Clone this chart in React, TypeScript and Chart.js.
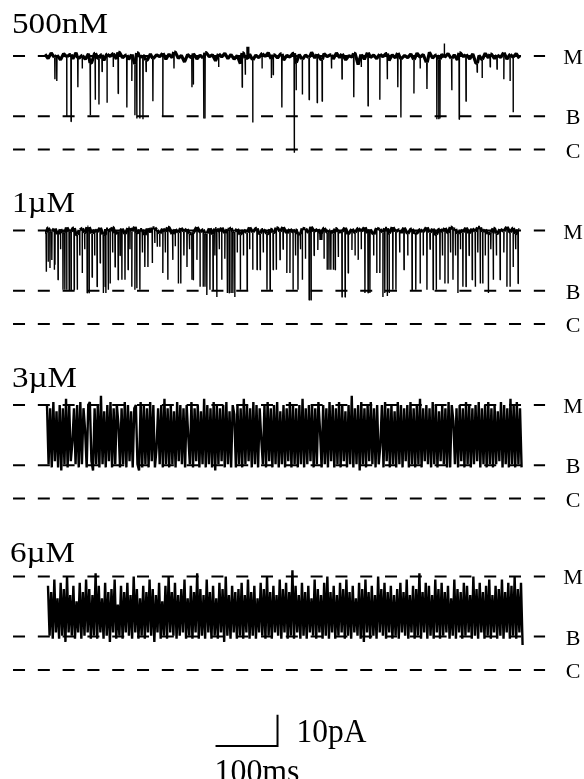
import React, { useEffect, useRef } from "react";
import { Chart, registerables } from "chart.js";

Chart.register(...registerables);

// ---------------- data ----------------
const conditions = ["500nM", "1\u00B5M", "3\u00B5M", "6\u00B5M"];
const levelNames = ["M", "B", "C"];
const levelCurrents = [30, 10.7, 0]; // pA above the closed level

const scaleBarTime = 100; // ms
const scaleBarCurrent = 10; // pA
const scaleBarLabels = ["100ms", "10pA"];

// baseline noise around the M level (pA), one value per 5 ms
const noise500nM = [
  0.6, -0.8, 1.0, -0.4, 0.3, -1.2, 0.8, -0.2, 0.5, -0.9, 1.1, -0.6,
  0.2, -1.0, 0.7, -2.2, 0.9, -0.7, 0.4, -1.4, 0.6, -0.1, 0.8, -0.9,
  1.2, -0.5, 0.3, -1.1, 0.5, -2.6, 1.0, -0.3, 0.1, -1.3, 0.7, -0.8,
  0.4, -0.2, 0.9, -1.0, 0.6, -0.5, 1.3, -0.7, 0.2, -1.9, 0.5, -0.4,
  0.8, -0.9, 0.3, -0.6, 1.1, -0.2, 0.4, -1.5, 0.7, -0.3, 0.9, -0.8,
  0.5, -1.0, 0.2, -2.4, 1.0, -0.7, 0.6, -1.2, 0.3, -0.5, 0.8, -0.1,
  1.1, -0.9, 0.4, -0.6, 0.7, -1.3, 0.2, -0.3, 0.9, -2.1, 0.5, -1.0,
  0.3, -0.4, 1.2, -0.6, 0.6, -1.1, 0.8, -0.2, 0.4, -0.9, 1.0, -0.5,
  0.7, -1.2, 0.1, -0.3, 0.9, -2.7, 0.5, -1.0, 1.1, -0.4, 0.3, -0.8,
  0.6, -0.2, 0.8, -1.4, 0.4, -0.6, 1.0, -0.9, 0.2, -0.5, 0.7, -1.1,
  0.9, -0.3, 0.5, -2.0, 1.2, -0.6, 0.3, -1.0, 0.6, -0.4, 0.8, -0.7,
  0.4, -1.2, 1.0, -0.2, 0.5, -0.9, 0.7, -2.3, 0.2, -1.1, 0.9, -0.6,
  0.6, -0.8, 0.3, -0.4, 1.1, -1.0, 0.5, -0.3, 0.8, -0.7, 0.4, -1.3,
];

// brief transitions: [time ms, current pA]
const events500nM = [
  [16, 22.6], [19, 22], [35, 10.6], [42, 9], [53, 20], [60, 26], [73, 11], [81, 16],
  [87, 14.5], [92, 25], [100, 15], [110, 26.5], [118, 18], [132, 13.5], [140, 22],
  [145, 11], [148, 10], [153, 10], [158, 9.7], [163, 25], [174, 15.5], [190, 10.6],
  [208, 26], [237, 20], [239, 21], [256, 10], [258, 10], [280, 26.5], [318, 20],
  [323, 24], [327, 33], [335, 8.7], [350, 26], [365, 23], [368, 24], [382, 13.5],
  [402, -1], [405, 19], [415, 17.7], [426, 16], [439, 15], [447, 15.5], [462, 26],
  [479, 22.6], [498, 16.8], [510, 26.5], [521, 14], [540, 16], [552, 22.6], [569, 20],
  [574, 10.3], [595, 18], [605, 26], [616, 19.4], [632, 9.7], [635, 9.7], [637, 10],
  [644, 34], [656, 19], [668, 9.7], [679, 15.5], [697, 24.8], [705, 23], [718, 26.5],
  [729, 25.8], [740, 22.6], [750, 22], [755, 12],
];

const noise1uM = [
  -0.5, 0.9, -0.2, 0.6, -1.1, 0.4, -0.7, 1.0, -0.3, 0.8, -1.3, 0.2,
  0.7, -0.6, 1.1, -0.9, 0.3, -0.4, 0.9, -1.2, 0.5, -0.1, 1.0, -0.8,
  -0.4, 0.6, -1.0, 0.8, -0.2, 1.2, -0.7, 0.3, -1.4, 0.7, -0.5, 0.9,
  0.2, -0.9, 0.6, -0.3, 1.0, -1.1, 0.4, -0.6, 0.8, -0.2, 0.5, -1.0,
  -0.7, 1.1, -0.4, 0.3, -0.9, 0.7, -1.2, 0.6, -0.1, 0.9, -0.8, 0.4,
  0.8, -0.3, 0.5, -1.3, 0.2, -0.6, 1.0, -0.5, 0.7, -0.9, 0.3, -0.2,
  -1.0, 0.4, -0.6, 0.9, -0.3, 1.1, -0.8, 0.5, -0.4, 0.2, -1.1, 0.7,
  0.6, -0.7, 1.2, -0.2, 0.4, -1.0, 0.8, -0.5, 0.1, -0.9, 0.6, -0.4,
  -0.3, 0.9, -1.1, 0.5, -0.6, 0.7, -0.2, 1.0, -0.8, 0.3, -1.2, 0.8,
  0.4, -0.5, 0.7, -0.9, 1.1, -0.3, 0.2, -0.7, 0.9, -1.0, 0.5, -0.6,
  -0.8, 0.3, -0.4, 1.0, -0.6, 0.6, -1.3, 0.4, -0.2, 0.8, -0.7, 1.1,
  0.5, -1.0, 0.2, -0.5, 0.9, -0.8, 0.6, -0.3, 1.0, -0.4, 0.3, -1.1,
  -0.6, 0.7, -0.9, 0.4, -0.2, 1.2, -0.5, 0.8, -1.0, 0.3, -0.7, 0.6,
];

const events1uM = [
  [2, 16.8], [5, 20], [8, 18], [11, 20.6], [15, 17.4], [16, 19], [21, 14.2], [25, 24],
  [29, 11], [32, 11], [35, 11], [39, 11], [42, 11], [47, 11], [52, 11], [56, 22],
  [60, 16.4], [64, 24], [68, 10], [71, 10], [76, 15], [80, 22], [84, 12], [89, 19.6],
  [94, 10], [97, 12], [98, 10], [102, 11], [105, 13], [109, 23], [113, 18.3], [118, 14.2],
  [121, 22], [124, 14.2], [129, 14.2], [134, 17.4], [137, 24], [140, 12], [145, 11],
  [148, 11.5], [153, 11], [157, 23], [161, 18.3], [166, 18.3], [173, 19.6], [177, 26],
  [181, 24.8], [185, 24.8], [190, 16.4], [194, 23], [198, 14.2], [206, 20.6], [210, 25],
  [215, 13], [219, 13], [224, 22], [229, 18.3], [233, 24], [237, 14.2], [239, 14.2],
  [245, 20.6], [250, 12], [255, 12], [258, 12], [261, 9.3], [266, 11], [271, 11],
  [274, 22], [277, 8.7], [281, 24], [285, 14.2], [290, 21], [294, 10], [297, 10],
  [300, 10], [303, 10], [306, 8.7], [310, 23], [315, 11], [320, 22], [326, 11],
  [330, 24], [335, 17.4], [342, 17.4], [347, 17.4], [352, 23], [358, 11], [363, 11],
  [368, 17.4], [373, 17.4], [379, 20.6], [384, 24], [390, 16.4], [395, 16.4], [400, 11],
  [404, 22], [408, 11], [412, 24], [415, 14.2], [420, 21], [426, 7.7], [429, 7.7],
  [434, 22], [440, 23.8], [445, 27], [450, 21], [455, 17.4], [458, 17.4], [461, 17.4],
  [465, 17.4], [468, 17.4], [473, 21.5], [479, 8.7], [484, 8.7], [489, 16.4], [495, 23.8],
  [500, 22], [505, 20.6], [510, 24], [516, 10], [521, 10], [524, 10], [530, 22],
  [535, 16.4], [540, 16.4], [545, 8.7], [548, 10], [552, 9], [555, 10], [561, 11],
  [566, 11], [572, 23], [579, 17.4], [585, 22], [592, 11], [598, 11], [605, 13],
  [610, 22], [616, 11], [621, 24], [626, 11], [631, 11], [637, 14.2], [641, 22],
  [645, 13], [650, 13], [654, 23], [658, 14.2], [662, 22], [666, 10], [670, 24],
  [674, 12], [679, 12], [684, 22], [689, 14.2], [694, 12], [698, 23], [702, 13],
  [706, 13], [710, 22], [715, 10], [719, 24], [723, 14.2], [728, 22], [734, 14.2],
  [740, 23], [745, 12], [750, 12], [755, 18.3], [759, 24], [763, 13],
];

// fast flickering records (pA), one value per 2.56 ms
const trace3uM = [
  30, 11, 29, 10, 31, 12, 28, 10, 30, 9, 29, 11, 32, 10, 30, 12, 18, 29, 11, 30,
  10, 31, 11, 29, 22, 10, 30, 31, 12, 9, 29, 11, 30, 10, 33, 11, 28, 10, 30, 12,
  31, 10, 29, 11, 30, 24, 10, 29, 11, 31, 10, 30, 12, 28, 10, 29, 30, 11, 9, 31,
  10, 30, 11, 29, 10, 31, 12, 30, 10, 16, 29, 11, 30, 10, 32, 11, 29, 10, 30, 11,
  28, 10, 31, 12, 30, 11, 29, 10, 30, 20, 11, 31, 10, 29, 12, 30, 10, 28, 11, 32,
  10, 30, 11, 29, 10, 31, 9, 30, 11, 29, 12, 30, 10, 31, 11, 28, 10, 30, 27, 10,
  30, 11, 29, 10, 32, 11, 30, 12, 29, 10, 31, 11, 30, 10, 29, 19, 11, 30, 10, 31,
  12, 29, 10, 30, 11, 31, 10, 28, 11, 30, 10, 29, 12, 31, 10, 30, 11, 29, 10, 30,
  11, 32, 10, 29, 11, 30, 12, 30, 10, 29, 11, 31, 22, 10, 30, 11, 29, 10, 31, 12,
  30, 10, 29, 11, 31, 10, 30, 12, 28, 10, 30, 11, 33, 10, 29, 11, 30, 9, 31, 11,
  29, 10, 30, 12, 31, 11, 29, 10, 30, 11, 17, 30, 10, 31, 12, 29, 10, 30, 11, 28,
  10, 31, 11, 30, 10, 29, 12, 30, 10, 31, 11, 29, 10, 30, 11, 32, 10, 29, 12, 30,
  11, 29, 10, 31, 11, 30, 10, 28, 12, 30, 11, 29, 10, 31, 10, 30, 25, 11, 29, 10,
  30, 12, 29, 10, 31, 11, 30, 10, 29, 11, 30, 12, 31, 10, 29, 11, 30, 10, 31, 11,
  29, 10, 30, 11, 28, 12, 31, 10, 30, 11, 29, 10, 32, 11, 30, 10, 31, 11, 29, 10,
];

const trace6uM = [
  27, 11, 25, 10, 29, 12, 23, 10, 28, 11, 26, 9, 30, 12, 24, 11, 27, 10, 22, 12,
  28, 10, 25, 11, 29, 12, 26, 10, 24, 11, 31, 10, 27, 12, 23, 10, 28, 11, 25, 9,
  26, 12, 29, 10, 21, 11, 27, 10, 25, 12, 28, 11, 24, 10, 30, 12, 26, 10, 23, 11,
  27, 10, 25, 12, 29, 11, 26, 9, 24, 12, 28, 10, 22, 11, 27, 10, 30, 12, 25, 11,
  28, 10, 24, 11, 26, 12, 29, 10, 23, 11, 27, 10, 25, 12, 31, 10, 26, 11, 24, 10,
  29, 12, 25, 10, 27, 11, 23, 10, 28, 12, 26, 9, 30, 11, 24, 10, 27, 12, 25, 10,
  26, 11, 28, 10, 24, 12, 29, 10, 25, 11, 27, 10, 23, 12, 28, 11, 26, 10, 30, 11,
  25, 10, 27, 12, 24, 11, 29, 10, 26, 12, 28, 10, 25, 11, 32, 10, 27, 12, 24, 10,
  28, 11, 25, 10, 27, 12, 23, 11, 29, 10, 26, 12, 24, 10, 28, 11, 30, 10, 25, 12,
  27, 10, 24, 11, 28, 12, 26, 10, 29, 11, 25, 10, 27, 12, 23, 11, 28, 10, 26, 9,
  29, 12, 25, 10, 27, 11, 24, 10, 30, 12, 26, 11, 28, 10, 25, 12, 27, 10, 24, 11,
  26, 10, 28, 12, 25, 11, 29, 10, 24, 12, 27, 10, 26, 11, 31, 10, 25, 12, 28, 10,
  27, 11, 24, 10, 29, 12, 26, 10, 28, 11, 25, 12, 27, 10, 23, 11, 29, 10, 26, 12,
  25, 10, 28, 11, 27, 12, 24, 10, 30, 11, 26, 10, 28, 12, 25, 10, 27, 11, 29, 10,
  24, 12, 27, 10, 26, 11, 29, 10, 25, 12, 28, 10, 27, 11, 30, 10, 26, 12, 28, 8,
];

// ---------------- layout ----------------
const X_MIN = -72.6;
const X_MAX = 869.3;
const Y_MIN = 0;
const Y_MAX = 250;
const PANEL_OFFSET = [202, 146, 90, 35];
const NOISE_STEP = 5;
const EVENT_END = 766;
const DENSE_START = [3.2, 4.8];
const DENSE_STEP = 2.56;
const DASH_FROM = -51.6;
const DASH_TO = 806.5;
const SCALE_T0 = 275;
const SCALE_Y0 = 10.6;
const LEFT_LABELS = [
  { x: 12, y: 33, w: 96 },
  { x: 12, y: 212, w: 63 },
  { x: 12, y: 387, w: 65 },
  { x: 10, y: 562, w: 65 },
];
const SERIF = "'Liberation Serif', 'Times New Roman', serif";

type Pt = { x: number; y: number };

function buildEventTrace(noise: number[], events: number[][], offset: number): Pt[] {
  const M = levelCurrents[0];
  const base = (t: number) => {
    const i = Math.min(noise.length - 1, Math.max(0, Math.round(t / NOISE_STEP)));
    return offset + M + noise[i];
  };
  const pts: Pt[] = [];
  noise.forEach((n, i) => {
    const t = i * NOISE_STEP;
    if (t <= EVENT_END) pts.push({ x: t, y: offset + M + n });
  });
  pts.push({ x: EVENT_END, y: base(EVENT_END) });
  events.forEach(([t, v]) => {
    const b = base(t);
    pts.push({ x: t - 0.35, y: b }, { x: t, y: offset + v }, { x: t + 0.35, y: b });
  });
  pts.sort((a, b) => a.x - b.x);
  return pts;
}

function buildDenseTrace(values: number[], start: number, offset: number): Pt[] {
  return values.map((v, i) => ({ x: start + i * DENSE_STEP, y: offset + v }));
}

function drawStretched(ctx: CanvasRenderingContext2D, text: string, x: number, y: number, size: number, width: number) {
  ctx.font = `${size}px ${SERIF}`;
  const w = ctx.measureText(text).width;
  ctx.save();
  ctx.translate(x, y);
  ctx.scale(width / w, 1);
  ctx.textAlign = "left";
  ctx.textBaseline = "alphabetic";
  ctx.fillText(text, 0, 0);
  ctx.restore();
}

const labelPlugin = {
  id: "recordingLabels",
  afterDatasetsDraw(chart: any) {
    const ctx: CanvasRenderingContext2D = chart.ctx;
    const xs = chart.scales.x;
    const ys = chart.scales.y;
    ctx.save();
    ctx.fillStyle = "#000";
    conditions.forEach((name, i) => {
      const L = LEFT_LABELS[i];
      drawStretched(ctx, name, L.x, L.y, 30, L.w);
      levelCurrents.forEach((lv, j) => {
        ctx.font = `22px ${SERIF}`;
        ctx.textAlign = "center";
        ctx.textBaseline = "alphabetic";
        ctx.fillText(levelNames[j], 573, ys.getPixelForValue(PANEL_OFFSET[i] + lv) + 8);
      });
    });
    const right = xs.getPixelForValue(SCALE_T0 + scaleBarTime);
    const left = xs.getPixelForValue(SCALE_T0);
    const top = ys.getPixelForValue(SCALE_Y0 + scaleBarCurrent);
    const bottom = ys.getPixelForValue(SCALE_Y0);
    drawStretched(ctx, scaleBarLabels[1], right + 19, top + 27, 33, 70);
    drawStretched(ctx, scaleBarLabels[0], left - 1, bottom + 36, 33, 85);
    ctx.restore();
  },
};

export default function App() {
  const ref = useRef<HTMLCanvasElement | null>(null);

  useEffect(() => {
    if (!ref.current) return;
    const datasets: any[] = [];
    const lineBase = {
      showLine: true,
      pointRadius: 0,
      pointHoverRadius: 0,
      borderColor: "#000",
      backgroundColor: "#000",
      fill: false,
      tension: 0,
    };
    PANEL_OFFSET.forEach((off) => {
      levelCurrents.forEach((lv) => {
        datasets.push({
          ...lineBase,
          data: [
            { x: DASH_FROM, y: off + lv },
            { x: DASH_TO, y: off + lv },
          ],
          borderWidth: 2,
          borderDash: [12, 12.8],
          borderCapStyle: "butt",
          order: 2,
        });
      });
    });
    const traces: Pt[][] = [
      buildEventTrace(noise500nM, events500nM, PANEL_OFFSET[0]),
      buildEventTrace(noise1uM, events1uM, PANEL_OFFSET[1]),
      buildDenseTrace(trace3uM, DENSE_START[0], PANEL_OFFSET[2]),
      buildDenseTrace(trace6uM, DENSE_START[1], PANEL_OFFSET[3]),
    ];
    traces.forEach((data, i) => {
      const mLevel = PANEL_OFFSET[i] + levelCurrents[0];
      const ds: any = {
        ...lineBase,
        data,
        borderWidth: i < 2 ? 1.4 : 2.4,
        borderJoinStyle: "bevel",
        order: 1,
      };
      if (i < 2) {
        ds.segment = {
          borderWidth: (c: any) =>
            Math.abs(c.p0.parsed.y - mLevel) < 3.2 && Math.abs(c.p1.parsed.y - mLevel) < 3.2 ? 3.2 : 1.4,
        };
      }
      datasets.push(ds);
    });
    datasets.push({
      ...lineBase,
      data: [
        { x: SCALE_T0, y: SCALE_Y0 },
        { x: SCALE_T0 + scaleBarTime, y: SCALE_Y0 },
        { x: SCALE_T0 + scaleBarTime, y: SCALE_Y0 + scaleBarCurrent },
      ],
      borderWidth: 2,
      borderJoinStyle: "miter",
      order: 0,
    });

    const chart = new Chart(ref.current, {
      type: "scatter",
      data: { datasets },
      options: {
        animation: false,
        responsive: false,
        maintainAspectRatio: false,
        devicePixelRatio: 1,
        events: [],
        layout: { padding: 0 },
        scales: {
          x: { type: "linear", min: X_MIN, max: X_MAX, display: false },
          y: { type: "linear", min: Y_MIN, max: Y_MAX, display: false },
        },
        plugins: {
          legend: { display: false },
          tooltip: { enabled: false },
          title: { display: false },
        },
      },
      plugins: [labelPlugin],
    } as any);
    return () => chart.destroy();
  }, []);

  return (
    <div style={{ position: "fixed", left: 0, top: 0, width: 584, height: 779, background: "#fff" }}>
      <canvas ref={ref} width={584} height={779} style={{ width: 584, height: 779, display: "block" }} />
    </div>
  );
}
